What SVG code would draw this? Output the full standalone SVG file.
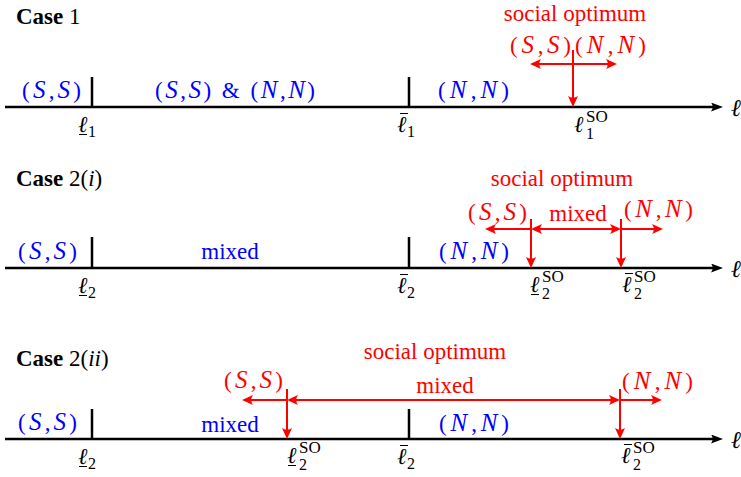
<svg xmlns="http://www.w3.org/2000/svg" width="741" height="477" viewBox="0 0 741 477">
<defs>
<style>
text{font-family:"Liberation Serif","Times New Roman",serif;font-size:23px}
.b{fill:#0000ff}
.r{fill:#ff0000}
.k{fill:#000}
.i{font-style:italic;font-size:25px}
.ii{font-style:italic}
.bold{font-weight:bold}
.ax{stroke:#000;stroke-width:2.5;fill:none}
.rd{stroke:#ff0000;stroke-width:2;fill:none}
.ml{stroke:#000;stroke-width:1;fill:none}
.ell{font-size:23px;font-style:italic;fill:#000}
.sub{font-size:16px;font-style:normal}
.sup{font-size:17px;font-style:normal}
</style>
<marker id="ka" viewBox="0 0 12 9" refX="7" refY="4.5" markerWidth="12" markerHeight="9" markerUnits="userSpaceOnUse" orient="auto"><path d="M12,4.5 L0,0 Q3.5,4.5 0,9 Z" fill="#000"/></marker>
<marker id="ra" viewBox="0 0 11 10" refX="7" refY="5" markerWidth="11" markerHeight="10" markerUnits="userSpaceOnUse" orient="auto-start-reverse"><path d="M11,5 L0,0 Q3.5,5 0,10 Z" fill="#ff0000"/></marker>
</defs>

<!-- Case 1 -->
<g id="case1">
<text x="16" y="24" class="k"><tspan class="bold">Case</tspan> 1</text>
<line class="ax" x1="5" y1="107" x2="718" y2="107" marker-end="url(#ka)"/>
<line class="ax" x1="92" y1="77" x2="92" y2="107"/>
<line class="ax" x1="409" y1="77" x2="409" y2="107"/>
<text x="731" y="116" class="ell" style="font-size:24px">ℓ</text>
<text x="22" y="98" class="b" textLength="59" lengthAdjust="spacing">(<tspan class="i">S</tspan>,<tspan class="i">S</tspan>)</text>
<text x="155" y="98" class="b" textLength="160" lengthAdjust="spacing">(<tspan class="i">S</tspan>,<tspan class="i">S</tspan>) &amp; (<tspan class="i">N</tspan>,<tspan class="i">N</tspan>)</text>
<text x="438" y="98" class="b" textLength="71" lengthAdjust="spacing">(<tspan class="i">N</tspan>,<tspan class="i">N</tspan>)</text>
<text x="575" y="21" class="r" text-anchor="middle">social optimum</text>
<text x="510" y="53" class="r" textLength="61" lengthAdjust="spacing">(<tspan class="i">S</tspan>,<tspan class="i">S</tspan>)</text>
<text x="575" y="53" class="r" textLength="71" lengthAdjust="spacing">(<tspan class="i">N</tspan>,<tspan class="i">N</tspan>)</text>
<g id="l1lo"><text x="78" y="132" class="ell">ℓ<tspan class="sub" x="88" y="137">1</tspan></text><line class="ml" x1="79" y1="134.5" x2="87" y2="134.5"/></g>
<g id="l1hi"><text x="397" y="132" class="ell">ℓ<tspan class="sub" x="407" y="137">1</tspan></text><line class="ml" x1="400" y1="113.5" x2="408" y2="113.5"/></g>
<g id="l1so"><text x="574" y="132" class="ell">ℓ<tspan class="sup" x="586" y="122">SO</tspan><tspan class="sub" x="586" y="139">1</tspan></text></g>
</g>

<!-- Case 2(i) -->
<g id="case2i">
<text x="16" y="186" class="k"><tspan class="bold">Case</tspan> 2(<tspan class="ii">i</tspan>)</text>
<line class="ax" x1="5" y1="268" x2="718" y2="268" marker-end="url(#ka)"/>
<line class="ax" x1="92" y1="237" x2="92" y2="268"/>
<line class="ax" x1="409" y1="237" x2="409" y2="268"/>
<text x="731" y="277" class="ell" style="font-size:24px">ℓ</text>
<text x="18" y="259" class="b" textLength="59" lengthAdjust="spacing">(<tspan class="i">S</tspan>,<tspan class="i">S</tspan>)</text>
<text x="230" y="259" class="b" text-anchor="middle">mixed</text>
<text x="439" y="259" class="b" textLength="70" lengthAdjust="spacing">(<tspan class="i">N</tspan>,<tspan class="i">N</tspan>)</text>
<text x="562" y="186" class="r" text-anchor="middle">social optimum</text>
<text x="468" y="220" class="r" textLength="59" lengthAdjust="spacing">(<tspan class="i">S</tspan>,<tspan class="i">S</tspan>)</text>
<text x="578" y="221" class="r" text-anchor="middle">mixed</text>
<text x="624" y="217" class="r" textLength="69" lengthAdjust="spacing">(<tspan class="i">N</tspan>,<tspan class="i">N</tspan>)</text>
<g id="l2lo_a"><text x="78" y="293" class="ell">ℓ<tspan class="sub" x="88" y="298">2</tspan></text><line class="ml" x1="79" y1="295.5" x2="87" y2="295.5"/></g>
<g id="l2hi_a"><text x="397" y="293" class="ell">ℓ<tspan class="sub" x="407" y="298">2</tspan></text><line class="ml" x1="400" y1="274.5" x2="408" y2="274.5"/></g>
<g id="l2solo_a"><text x="530" y="292" class="ell">ℓ<tspan class="sup" x="542" y="282">SO</tspan><tspan class="sub" x="542" y="299">2</tspan></text><line class="ml" x1="531" y1="294.5" x2="539" y2="294.5"/></g>
<g id="l2sohi_a"><text x="622" y="292" class="ell">ℓ<tspan class="sup" x="634" y="282">SO</tspan><tspan class="sub" x="634" y="299">2</tspan></text><line class="ml" x1="625" y1="273.5" x2="633" y2="273.5"/></g>
</g>

<!-- Case 2(ii) -->
<g id="case2ii">
<text x="16" y="366" class="k"><tspan class="bold">Case</tspan> 2(<tspan class="ii">ii</tspan>)</text>
<line class="ax" x1="5" y1="439" x2="718" y2="439" marker-end="url(#ka)"/>
<line class="ax" x1="92" y1="409" x2="92" y2="439"/>
<line class="ax" x1="409" y1="409" x2="409" y2="439"/>
<text x="731" y="448" class="ell" style="font-size:24px">ℓ</text>
<text x="18" y="430" class="b" textLength="59" lengthAdjust="spacing">(<tspan class="i">S</tspan>,<tspan class="i">S</tspan>)</text>
<text x="230" y="432" class="b" text-anchor="middle">mixed</text>
<text x="439" y="431" class="b" textLength="70" lengthAdjust="spacing">(<tspan class="i">N</tspan>,<tspan class="i">N</tspan>)</text>
<text x="435" y="359" class="r" text-anchor="middle">social optimum</text>
<text x="224" y="388" class="r" textLength="59" lengthAdjust="spacing">(<tspan class="i">S</tspan>,<tspan class="i">S</tspan>)</text>
<text x="445" y="393" class="r" text-anchor="middle">mixed</text>
<text x="622" y="389" class="r" textLength="71" lengthAdjust="spacing">(<tspan class="i">N</tspan>,<tspan class="i">N</tspan>)</text>
<g id="l2lo_b"><text x="78" y="464" class="ell">ℓ<tspan class="sub" x="88" y="469">2</tspan></text><line class="ml" x1="79" y1="466.5" x2="87" y2="466.5"/></g>
<g id="l2hi_b"><text x="397" y="464" class="ell">ℓ<tspan class="sub" x="407" y="469">2</tspan></text><line class="ml" x1="400" y1="445.5" x2="408" y2="445.5"/></g>
<g id="l2solo_b"><text x="287" y="463" class="ell">ℓ<tspan class="sup" x="299" y="453">SO</tspan><tspan class="sub" x="299" y="470">2</tspan></text><line class="ml" x1="288" y1="465.5" x2="296" y2="465.5"/></g>
<g id="l2sohi_b"><text x="621" y="463" class="ell">ℓ<tspan class="sup" x="633" y="453">SO</tspan><tspan class="sub" x="633" y="470">2</tspan></text><line class="ml" x1="624" y1="444.5" x2="632" y2="444.5"/></g>
</g>

<!-- connectors -->
<g id="connectors">
<line class="rd" x1="534" y1="64" x2="613" y2="64" marker-start="url(#ra)" marker-end="url(#ra)"/>
<line class="rd" x1="573" y1="50" x2="573" y2="103" marker-end="url(#ra)"/>

<line class="rd" x1="531" y1="229" x2="489" y2="229" marker-end="url(#ra)"/>
<line class="rd" x1="535" y1="229" x2="617" y2="229" marker-start="url(#ra)" marker-end="url(#ra)"/>
<line class="rd" x1="621" y1="229" x2="659" y2="229" marker-end="url(#ra)"/>
<line class="rd" x1="531" y1="219" x2="531" y2="264" marker-end="url(#ra)"/>
<line class="rd" x1="621" y1="219" x2="621" y2="264" marker-end="url(#ra)"/>

<line class="rd" x1="287" y1="400" x2="246" y2="400" marker-end="url(#ra)"/>
<line class="rd" x1="291" y1="400" x2="616" y2="400" marker-start="url(#ra)" marker-end="url(#ra)"/>
<line class="rd" x1="620" y1="400" x2="658" y2="400" marker-end="url(#ra)"/>
<line class="rd" x1="287" y1="389" x2="287" y2="435" marker-end="url(#ra)"/>
<line class="rd" x1="620" y1="389" x2="620" y2="435" marker-end="url(#ra)"/>
</g>
</svg>
